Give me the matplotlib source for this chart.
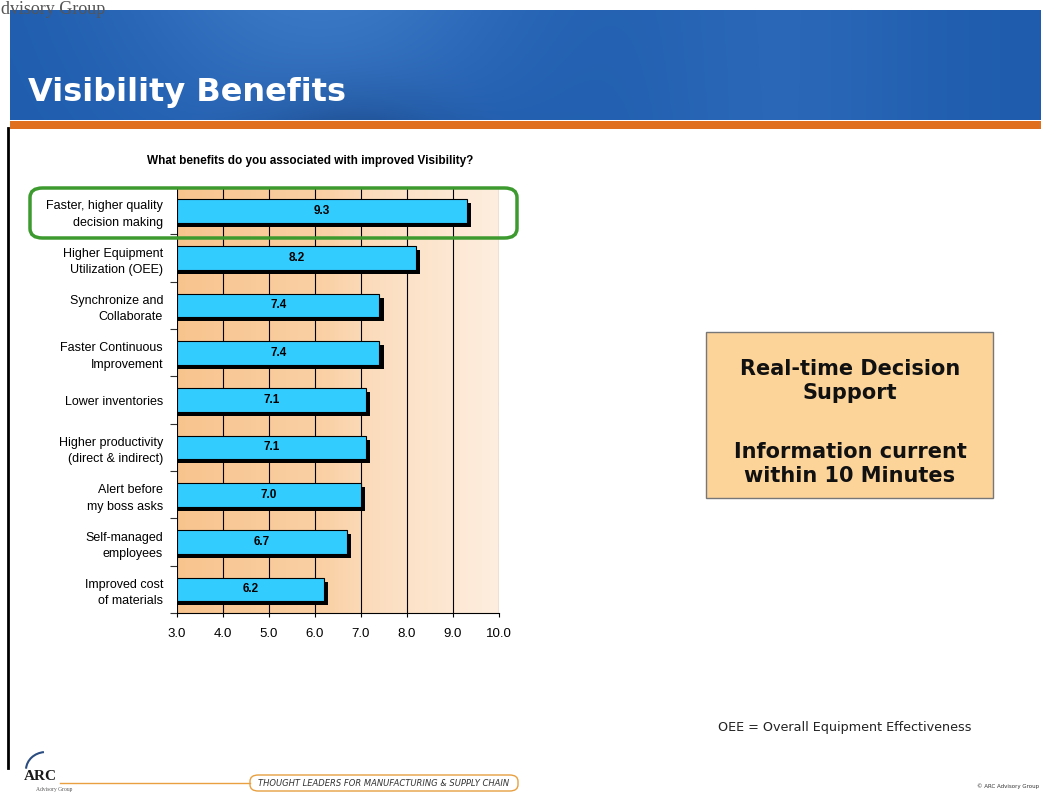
import numpy as np
import matplotlib.pyplot as plt
from matplotlib.patches import FancyBboxPatch, Rectangle, Arc

categories = [
    "Faster, higher quality\ndecision making",
    "Higher Equipment\nUtilization (OEE)",
    "Synchronize and\nCollaborate",
    "Faster Continuous\nImprovement",
    "Lower inventories",
    "Higher productivity\n(direct & indirect)",
    "Alert before\nmy boss asks",
    "Self-managed\nemployees",
    "Improved cost\nof materials",
]
scores = [9.3, 8.2, 7.4, 7.4, 7.1, 7.1, 7.0, 6.7, 6.2]
x_ticks = [3.0, 4.0, 5.0, 6.0, 7.0, 8.0, 9.0, 10.0]

W, H = 1041, 792
fig = plt.figure(figsize=(W / 100, H / 100), dpi=100)
fig.patch.set_facecolor("white")


def fx(px):
    return px / W


def fy(py):
    return 1 - py / H


# header banner
ban = fig.add_axes([fx(10), fy(120), fx(1031), (120 - 10) / H])
xx = np.linspace(0, 1, 300)
yy = np.linspace(0, 1, 60)
X, Y = np.meshgrid(xx, yy)
light = 0.35 * np.exp(-((X - 0.3) ** 2) / 0.04) * (1 - 0.5 * Y) + 0.15 * np.exp(-((X - 0.75) ** 2) / 0.02)
dark = 0.35 * np.exp(-((X - 0.33) ** 2) / 0.01) * Y ** 3
base = np.array([0.12, 0.36, 0.68])
img = np.clip(base[None, None, :] + light[..., None] * np.array([0.3, 0.3, 0.25]) - dark[..., None] * np.array([0.1, 0.2, 0.3]), 0, 1)
ban.imshow(img, aspect="auto", extent=[0, 1, 0, 1])
ban.axis("off")
fig.text(fx(28), fy(92), "Visibility Benefits", color="white", fontsize=23, fontweight="bold",
         family="DejaVu Sans", va="center", ha="left")
fig.text(fx(1), fy(1), "dvisory Group", color="#555555", fontsize=13, family="Liberation Serif",
         va="top", ha="left")
fig.add_artist(Rectangle((fx(10), fy(129)), fx(1031), 8 / H, transform=fig.transFigure,
                         color="#E07020", lw=0))
fig.add_artist(plt.Line2D([fx(8), fx(8)], [fy(128), fy(768)], color="black", lw=2,
                          transform=fig.transFigure))

# chart
ax = fig.add_axes([fx(177), fy(613), (499 - 177) / W, (613 - 187) / H])
grad = np.linspace(0, 1, 200)[None, :]
cmap = plt.matplotlib.colors.LinearSegmentedColormap.from_list(
    "bg", [(0, "#F8C48E"), (0.45, "#FAD0A4"), (0.65, "#FCDFC2"), (1, "#FEEEDF")])
ax.imshow(grad, cmap=cmap, aspect="auto", extent=[3, 10, 8.5, -0.5], zorder=0)

y = np.arange(len(categories))
h = 0.5
left = x_ticks[0]
ax.barh(y + 0.09, np.array(scores) - left + 0.09, left=left, height=h, color="black", zorder=3)
ax.barh(y, np.array(scores) - left, left=left, height=h, color="#33CCFF", edgecolor="black",
        linewidth=0.8, zorder=4)
for yi, v in zip(y, scores):
    ax.text((left + v) / 2, yi, f"{v:.1f}", ha="center", va="center", fontsize=8.5,
            fontweight="bold", family="Liberation Sans", zorder=5)

ax.set_xlim(3, 10)
ax.set_ylim(8.5, -0.5)
ax.set_xticks(x_ticks)
ax.set_xticklabels([f"{t:.1f}" for t in x_ticks], fontsize=9.5, family="Liberation Sans")
for t in x_ticks:
    ax.axvline(t, color="black", lw=0.8, zorder=2)
ax.set_yticks(y)
ax.set_yticklabels(categories, fontsize=9, family="Liberation Sans", linespacing=1.5)
ax.tick_params(axis="y", length=0, pad=10)
ax.set_yticks(np.arange(-0.5, 9, 1), minor=True)
ax.tick_params(axis="y", which="minor", length=5, width=0.8, color="#333333")
ax.tick_params(axis="x", length=3, pad=8)
for s in ["top", "right"]:
    ax.spines[s].set_visible(False)
ax.spines["left"].set_linewidth(0.5)
ax.spines["bottom"].set_linewidth(0.8)

fig.text(fx(310), fy(161), "What benefits do you associated with improved Visibility?",
         fontsize=8.5, fontweight="bold", family="Liberation Sans", ha="center", va="center")

# green highlight
fig.add_artist(FancyBboxPatch((fx(30), fy(238)), fx(517 - 30), (238 - 188) / H,
                              boxstyle="round,pad=0,rounding_size=0.012", transform=fig.transFigure,
                              fill=False, edgecolor="#3C9A2E", lw=2.5, zorder=10))

# callout box
fig.add_artist(Rectangle((fx(706), fy(498)), fx(993 - 706), (498 - 332) / H, transform=fig.transFigure,
                         facecolor="#FCD49A", edgecolor="#777777", lw=1))
fig.text(fx(850), fy(381), "Real-time Decision\nSupport",
         ha="center", va="center", fontsize=15, fontweight="bold", family="DejaVu Sans",
         linespacing=1.3, color="#111111")
fig.text(fx(850), fy(464), "Information current\nwithin 10 Minutes",
         ha="center", va="center", fontsize=15, fontweight="bold", family="DejaVu Sans",
         linespacing=1.3, color="#111111")

# footer
fig.text(fx(718), fy(727), "OEE = Overall Equipment Effectiveness", fontsize=9.2,
         family="DejaVu Sans", ha="left", va="center", color="#222222")
fig.add_artist(Arc((fx(46), fy(770)), fx(40), 36 / H, theta1=95, theta2=175,
                   transform=fig.transFigure, color="#2A4C80", lw=1.5))
fig.text(fx(24), fy(776), "ARC", fontsize=11, fontweight="bold", family="Liberation Serif",
         ha="left", va="center", color="#1a1a1a")
fig.text(fx(36), fy(789), "Advisory Group", fontsize=4, family="Liberation Serif",
         ha="left", va="center", color="#555555")
fig.add_artist(plt.Line2D([fx(60), fx(250)], [fy(783), fy(783)], color="#E8A040", lw=1,
                          transform=fig.transFigure))
fig.add_artist(FancyBboxPatch((fx(250), fy(791)), fx(268), 16 / H,
                              boxstyle="round,pad=0,rounding_size=0.008", transform=fig.transFigure,
                              fill=False, edgecolor="#E8A040", lw=1))
fig.text(fx(384), fy(783), "THOUGHT LEADERS FOR MANUFACTURING & SUPPLY CHAIN", fontsize=6,
         style="italic", family="DejaVu Sans", ha="center", va="center", color="#333333")
fig.text(fx(1039), fy(786), "© ARC Advisory Group", fontsize=4, family="DejaVu Sans",
         ha="right", va="center", color="#333333")

fig.savefig("out.png", dpi=100)
